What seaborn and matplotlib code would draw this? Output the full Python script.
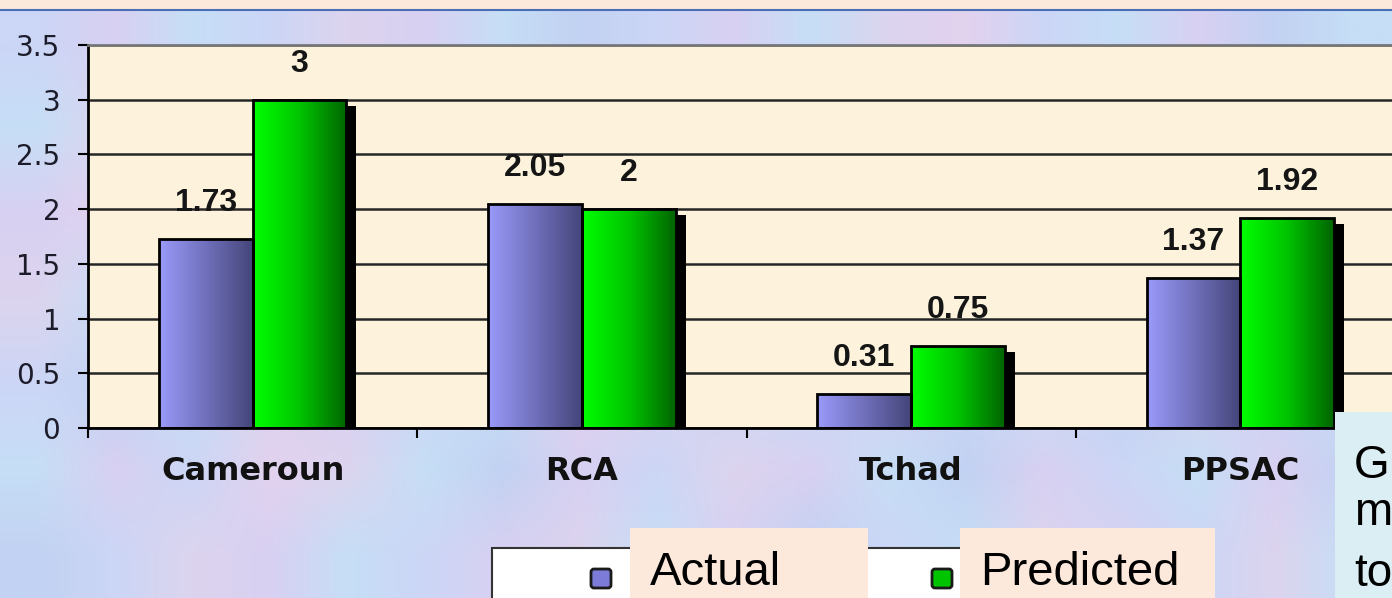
import numpy as np
import pandas as pd
import matplotlib
matplotlib.use('Agg')
import matplotlib.pyplot as plt
import seaborn as sns
from matplotlib.patches import Rectangle, FancyBboxPatch
from matplotlib.colors import LinearSegmentedColormap, to_rgb
from matplotlib.transforms import Affine2D, offset_copy

# data
countries = ['Cameroun', 'RCA', 'Tchad', 'PPSAC']
actual = [1.73, 2.05, 0.31, 1.37]
predicted = [3, 2, 0.75, 1.92]
series_names = ['Actual', 'Predicted']
y_ticks = [0, 0.5, 1, 1.5, 2, 2.5, 3, 3.5]

W, H = 1392, 598

sns.set_style('white')
plt.rcParams['font.family'] = ['Liberation Sans', 'DejaVu Sans']

df = pd.DataFrame({
    'country': countries * 2,
    'value': actual + predicted,
    'series': [series_names[0]] * len(actual) + [series_names[1]] * len(predicted),
})

fig = plt.figure(figsize=(W / 100, H / 100), dpi=100)
# pixel coords of the reference, origin top-left
pix = Affine2D().scale(1 / W, -1 / H).translate(0, 1) + fig.transFigure

# mottled slide background
tints = ['#CCD6F6', '#D8D0F2', '#C6DEF6', '#DCD4EE', '#C2D2F2', '#E2D2EE']
bg_idx = [
    [0, 1, 2, 0, 3, 1, 2, 4, 0, 1, 2, 3, 5, 0, 2, 1, 4, 2],
    [2, 3, 0, 4, 1, 2, 0, 3, 2, 4, 1, 0, 2, 3, 1, 0, 2, 3],
    [1, 5, 4, 2, 0, 3, 1, 2, 4, 0, 3, 2, 1, 4, 0, 2, 5, 1],
    [3, 2, 1, 0, 2, 4, 3, 0, 1, 2, 0, 4, 3, 0, 2, 1, 3, 0],
    [0, 4, 2, 3, 1, 0, 2, 5, 3, 0, 2, 1, 0, 2, 4, 3, 0, 2],
    [2, 1, 0, 5, 3, 2, 4, 1, 0, 3, 1, 2, 4, 1, 0, 2, 1, 4],
    [4, 0, 3, 1, 2, 0, 1, 3, 2, 1, 4, 0, 2, 3, 1, 0, 3, 2],
]
bg = fig.add_axes([0, 0, 1, 1], zorder=-5)
bg.imshow(np.array([[to_rgb(tints[i]) for i in row] for row in bg_idx]),
          extent=(0, 1, 0, 1), aspect='auto', interpolation='bilinear')
bg.set_xlim(0, 1)
bg.set_ylim(0, 1)
bg.axis('off')

ax = fig.add_axes([88 / W, 1 - 428 / H, (1405 - 88) / W, (428 - 45) / H])
ax.set_facecolor('#FDF3DC')

sns.barplot(data=df, x='country', y='value', hue='series', order=countries,
            hue_order=series_names, palette=['#7070C0', '#00C000'],
            width=0.57, gap=0, saturation=1, edgecolor='black', linewidth=2,
            legend=False, ax=ax)

cmaps = [
    LinearSegmentedColormap.from_list('act', ['#9A9AFA', '#7070BC', '#45457A']),
    LinearSegmentedColormap.from_list('pred', ['#00FF00', '#00C400', '#006400']),
]
ramp = np.linspace(0, 1, 256)[None, :]
shadow_tr = offset_copy(ax.transData, fig=fig, x=10, y=-6, units='dots')

for container, cmap in zip(ax.containers, cmaps):
    for bar in container:
        x0, y0 = bar.get_x(), bar.get_y()
        w, h = bar.get_width(), bar.get_height()
        ax.add_patch(Rectangle((x0, y0), w, h, transform=shadow_tr,
                               facecolor='black', edgecolor='none', zorder=1.5))
        img = ax.imshow(ramp, cmap=cmap, extent=(x0, x0 + w, y0, y0 + h),
                        aspect='auto', interpolation='bilinear', zorder=2)
        img.set_clip_path(bar)
        bar.set_facecolor('none')
        bar.set_zorder(2.2)
    ax.bar_label(container, fmt='%g', padding=15, fontsize=23,
                 fontweight='bold', color='#151515')

ax.set_xlim(-0.5, 3.5)
ax.set_ylim(0, 3.5)
ax.set_xlabel('')
ax.set_ylabel('')

ax.set_yticks(y_ticks)
ax.set_yticklabels(['%g' % t for t in y_ticks], family='DejaVu Sans')
ax.tick_params(axis='y', left=True, length=7, width=1.5, pad=13,
               labelsize=20, labelcolor='#1c1c2a', color='black')
ax.set_xticks(range(len(countries)))
ax.set_xticklabels(countries, family='DejaVu Sans', fontweight='bold')
ax.tick_params(axis='x', which='major', length=0, pad=20, labelsize=23,
               labelcolor='#111111')
ax.set_xticks([-0.5, 0.5, 1.5, 2.5], minor=True)
ax.tick_params(axis='x', which='minor', bottom=True, length=7, width=1.5,
               direction='out', color='black')

ax.set_axisbelow(True)
ax.yaxis.grid(True, color='#262626', linewidth=1.8)
ax.get_ygridlines()[-1].set_color('#777777')
for side in ['left', 'bottom']:
    ax.spines[side].set_color('black')
    ax.spines[side].set_linewidth(2)
ax.spines['top'].set_color('#777777')
ax.spines['top'].set_linewidth(2)
ax.spines['right'].set_visible(False)

# top band of the slide
fig.patches.append(Rectangle((0, 0), W, 9, transform=pix, facecolor='#FDE9DB',
                             edgecolor='none', zorder=1))
fig.add_artist(plt.Line2D([0, W], [9.5, 9.5], transform=pix, color='#4A6FB5',
                          lw=1.5, zorder=2))

# legend box with the overlaid labels
fig.patches.append(Rectangle((492, 548), 720, 60, transform=pix, facecolor='white',
                             edgecolor='#333333', lw=1.5, zorder=3))
for (sx, sy), col in zip([(591, 569), (932, 569)], ['#7C7CD8', '#00C400']):
    fig.patches.append(FancyBboxPatch((sx, sy), 20, 19, transform=pix,
                                      boxstyle='round,pad=0,rounding_size=3',
                                      facecolor=col, edgecolor='#1a1a1a',
                                      lw=2, zorder=4))
for (bx0, bx1), name in zip([(630, 868), (960, 1215)], series_names):
    fig.patches.append(Rectangle((bx0, 528), bx1 - bx0, 80, transform=pix,
                                 facecolor='#FDE9DB', edgecolor='none', zorder=5))
    fig.text(bx0 + 20, 585, name, transform=pix, fontsize=34, color='black',
             va='baseline', ha='left', zorder=6)

# side note box, cut off by the slide edge
fig.patches.append(Rectangle((1335, 412), 80, 200, transform=pix,
                             facecolor='#DAEEF3', edgecolor='none', zorder=5))
for line, base in zip(['G', 'm', 'to'], [478, 525, 586]):
    fig.text(1354, base, line, transform=pix, fontsize=33, color='black',
             va='baseline', ha='left', zorder=6)

fig.savefig('out.png', dpi=100)
